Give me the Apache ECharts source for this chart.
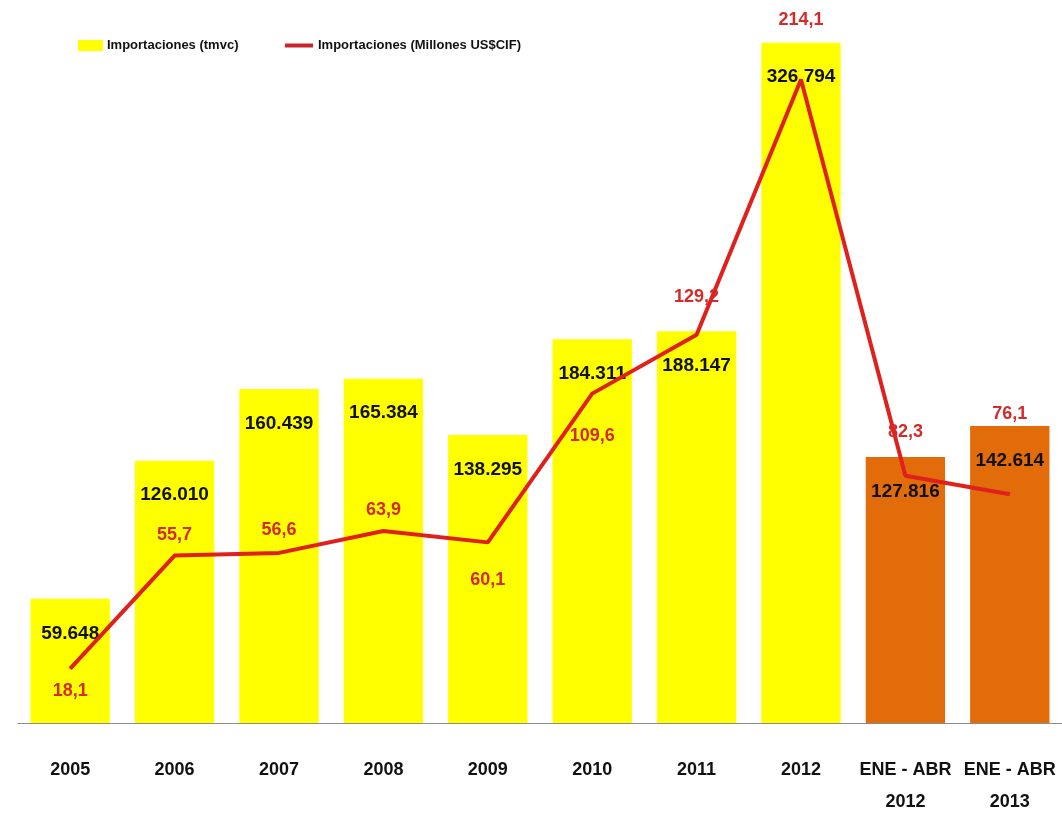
<!DOCTYPE html>
<html>
<head>
<meta charset="utf-8">
<script src="https://cdn.jsdelivr.net/npm/echarts@6/dist/echarts.min.js"></script>
<style>
html,body{margin:0;padding:0;background:#fff;}
#chart{width:1062px;height:819px;}
</style>
</head>
<body>
<div id="chart"></div>
<script>
const categories = ['2005','2006','2007','2008','2009','2010','2011','2012','ENE - ABR\n2012','ENE - ABR\n2013'];
const tmvc = [59648,126010,160439,165384,138295,184311,188147,326794,127816,142614];
const millonesCIF = [18.1,55.7,56.6,63.9,60.1,109.6,129.2,214.1,82.3,76.1];
const seriesNames = ['Importaciones (tmvc)','Importaciones (Millones US$CIF)'];

const FONT = "'Liberation Sans','Arial',sans-serif";
const YELLOW = '#ffff00', ORANGE = '#e36c0a', RED = '#e0201c', LABEL_RED = '#d42a2a';

// label placement for line labels (style, not data)
const lineLabelPos = ['bottom','top','top','top','bottom','bottom','top','top','top','top'];
const lineLabelDist = [13,11,13,11,28,33,28,50,34,71];

function fmtThousands(v){
  return String(v).replace(/\B(?=(\d{3})+(?!\d))/g,'.');
}

const chart = echarts.init(document.getElementById('chart'), null, {renderer:'canvas'});
chart.setOption({
  backgroundColor:'#ffffff',
  animation:false,
  textStyle:{fontFamily:FONT},
  legend:[
    {data:[{name:seriesNames[0],icon:'rect'}],left:73,top:34,itemWidth:25,itemHeight:11,itemGap:0,
     textStyle:{fontFamily:FONT,fontWeight:'bold',fontSize:13,color:'#111',padding:[0,0,0,-1]}},
    {data:[{name:seriesNames[1],icon:'rect'}],left:280,top:34,itemWidth:28,itemHeight:4,itemGap:0,
     itemStyle:{color:'#c8262c'},
     textStyle:{fontFamily:FONT,fontWeight:'bold',fontSize:13,color:'#111',padding:[0,0,0,0]}}
  ],
  grid:{left:18,right:-6,top:36,bottom:96,containLabel:false},
  xAxis:{
    type:'category',data:categories,boundaryGap:true,
    axisLine:{lineStyle:{color:'#8c8c8c',width:1}},
    axisTick:{length:10,lineStyle:{color:'#8c8c8c'}},
    axisLabel:{fontFamily:FONT,fontWeight:'bold',fontSize:18,color:'#111',margin:31,lineHeight:32,interval:0}
  },
  yAxis:[
    {type:'value',min:0,max:330000,show:false,splitLine:{show:false}},
    {type:'value',min:0,max:228.6,show:false,splitLine:{show:false}}
  ],
  series:[
    {
      name:seriesNames[0],type:'bar',yAxisIndex:0,barCategoryGap:'24%',
      data:tmvc.map((v,i)=>({value:v,itemStyle:{color:i>=8?ORANGE:YELLOW}})),
      itemStyle:{color:YELLOW},
      label:{show:true,position:'insideTop',distance:25,fontFamily:FONT,fontWeight:'bold',fontSize:19,color:'#111',
        formatter:p=>fmtThousands(p.value)},
      z:2
    },
    {
      name:seriesNames[1],type:'line',yAxisIndex:1,symbol:'circle',symbolSize:1,showSymbol:true,
      lineStyle:{color:RED,width:4},itemStyle:{color:RED},
      data:millonesCIF.map((v,i)=>({value:v,label:{show:true,position:lineLabelPos[i],distance:lineLabelDist[i]}})),
      label:{show:true,fontFamily:FONT,fontWeight:'bold',fontSize:18,color:LABEL_RED,
        formatter:p=>String(p.value).replace('.',',')},
      labelLayout:{hideOverlap:false},
      z:3
    }
  ]
});
</script>
</body>
</html>
